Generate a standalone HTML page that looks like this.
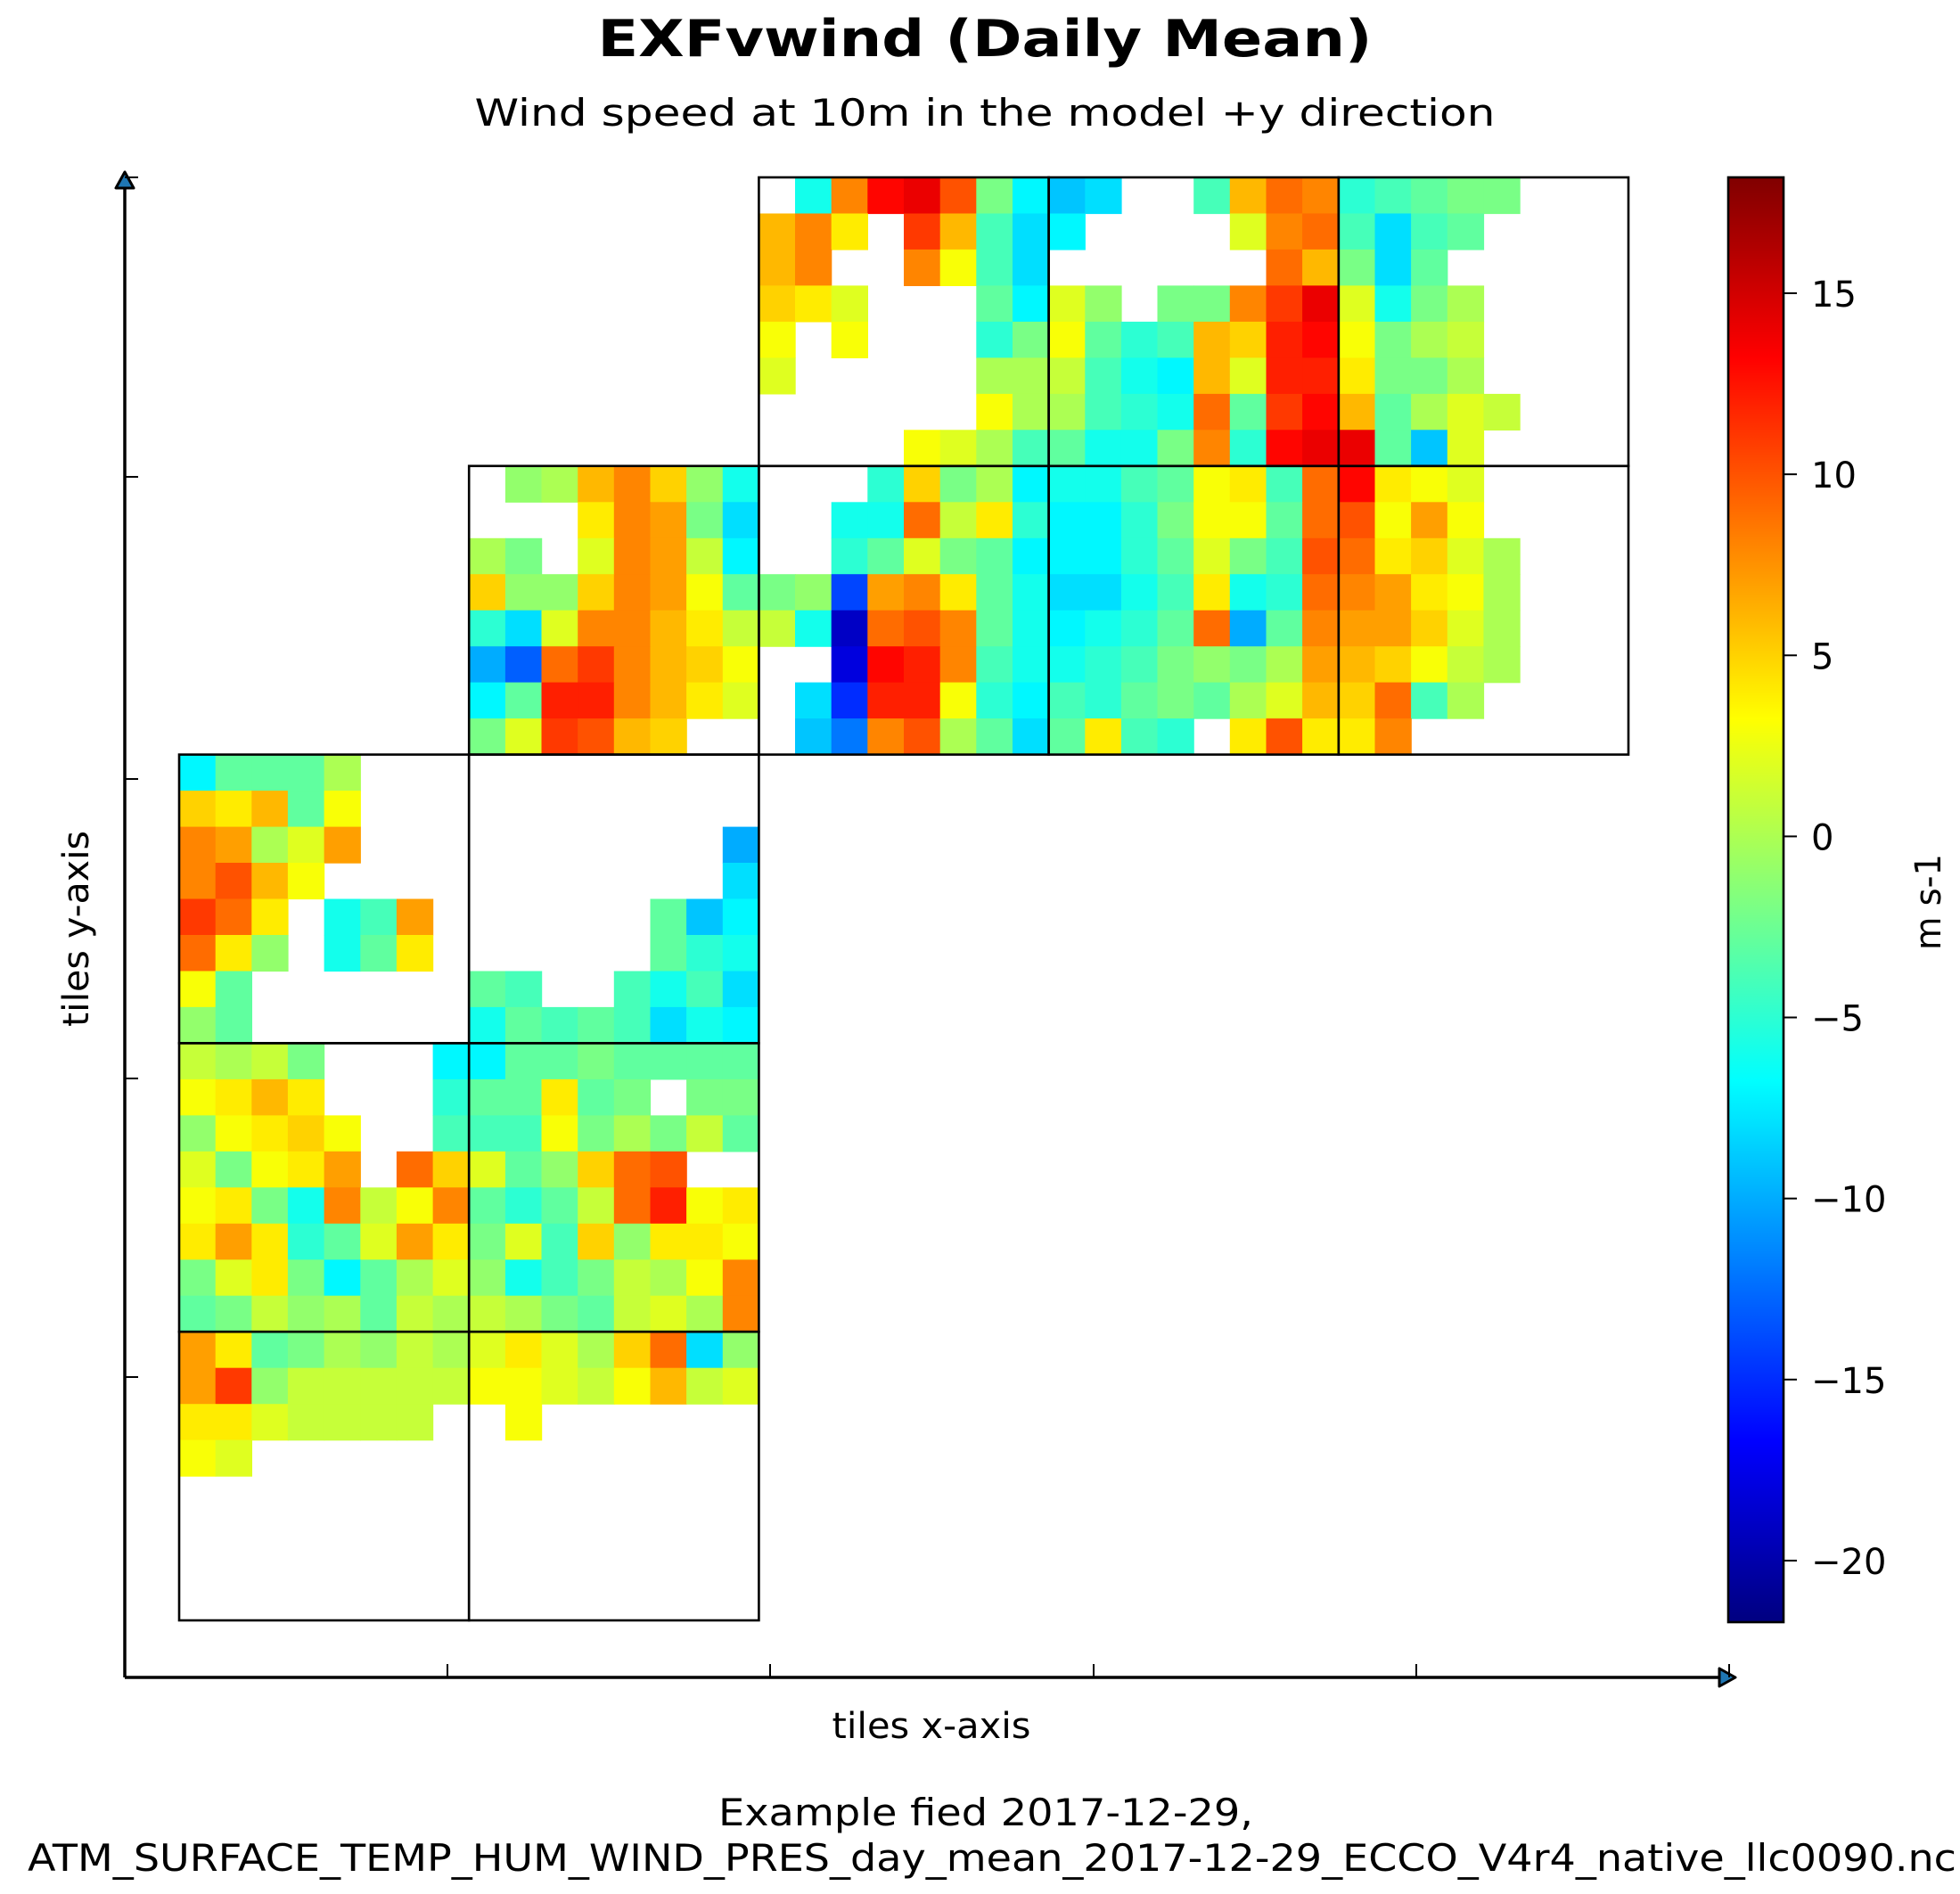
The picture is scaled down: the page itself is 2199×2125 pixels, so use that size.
<!DOCTYPE html>
<html><head><meta charset="utf-8"><title>EXFvwind (Daily Mean)</title>
<style>html,body{margin:0;padding:0;background:#fff}svg{display:block}text{font-family:"DejaVu Sans","Liberation Sans",sans-serif;fill:#000}</style>
</head><body>
<svg id="fig" xmlns="http://www.w3.org/2000/svg" width="2199" height="2125" viewBox="0 0 2199 2125">
<defs><linearGradient id="jetgrad" x1="0" y1="1" x2="0" y2="0"></linearGradient></defs>
<text x="1105" y="63" text-anchor="middle" font-size="57" font-weight="bold" textLength="869" lengthAdjust="spacingAndGlyphs">EXFvwind (Daily Mean)</text>
<text x="1105" y="141" text-anchor="middle" font-size="42" textLength="1145" lengthAdjust="spacingAndGlyphs">Wind speed at 10m in the model +y direction</text>
<g id="cells"></g>
<g id="frames"></g>
<g id="axes"></g>
<g id="cbar"></g>
<text x="1045" y="1950" text-anchor="middle" font-size="40" textLength="223" lengthAdjust="spacingAndGlyphs">tiles x-axis</text>
<text transform="translate(99,1042) rotate(-90)" text-anchor="middle" font-size="40" textLength="220" lengthAdjust="spacingAndGlyphs">tiles y-axis</text>
<text transform="translate(2177,1012) rotate(-90)" text-anchor="middle" font-size="40" textLength="108" lengthAdjust="spacingAndGlyphs">m s-1</text>
<text x="1106" y="2048" text-anchor="middle" font-size="42" textLength="600" lengthAdjust="spacingAndGlyphs">Example fied 2017-12-29,</text>
<text x="1113" y="2099" text-anchor="middle" font-size="42" textLength="2164" lengthAdjust="spacingAndGlyphs">ATM_SURFACE_TEMP_HUM_WIND_PRES_day_mean_2017-12-29_ECCO_V4r4_native_llc0090.nc</text>
</svg>
<script>
var _ = null;
// colour range (m s-1)
var vMin = -21.7;
var vMax = 18.2;
var cbarTicks = [15, 10, 5, 0, -5, -10, -15, -20];
var cbarTickLabels = ["15", "10", "5", "0", "\u221210", "\u221210", "\u221215", "\u221220"];
cbarTickLabels[4] = "\u22125";
// tile layout: [tileRow, tileCol]
var framedTiles = [[0,2],[0,3],[0,4],[1,1],[1,2],[1,3],[1,4],[2,0],[2,1],[3,0],[3,1],[4,0],[4,1]];
framedTiles.splice(framedTiles.length,0);
// tile field values (8x8 coarse samples each, null = land)
var tile02 = [
[_,-6,8,13,14,10,-2,-7],
[6,8,4,_,11,6,-4,-8],
[6,8,_,_,8,3,-4,-8],
[5,4,2,_,_,_,-3,-7],
[3,_,3,_,_,_,-5,-2],
[2,_,_,_,_,_,0,0],
[_,_,_,_,_,_,3,0],
[_,_,_,_,3,2,0,-4]];
var tile03 = [
[-9,-8,_,_,-4,6,9,8],
[-7,_,_,_,_,2,8,9],
[_,_,_,_,_,_,9,6],
[2,-1,_,-2,-2,8,11,14],
[3,-3,-5,-4,6,5,12,13],
[1,-4,-6,-7,6,2,12,12],
[0,-4,-5,-6,9,-3,11,13],
[-3,-6,-6,-2,8,-5,13,14]];
var tile04 = [
[-5,-4,-3,-2,-2,_,_,_],
[-4,-8,-4,-3,_,_,_,_],
[-2,-8,-3,_,_,_,_,_],
[2,-6,-2,0,_,_,_,_],
[3,-2,0,1,_,_,_,_],
[4,-2,-2,0,_,_,_,_],
[6,-3,0,2,1,_,_,_],
[14,-3,-9,2,_,_,_,_]];
var tile11 = [
[_,-1,0,6,8,5,-1,-6],
[_,_,_,4,8,7,-2,-8],
[0,-2,_,2,8,7,1,-7],
[5,-1,-1,5,8,7,3,-3],
[-5,-8,2,8,8,6,4,1],
[-10,-13,9,11,8,6,5,3],
[-7,-3,12,12,8,6,4,2],
[-2,2,11,10,6,5,_,_]];
var tile12 = [
[_,_,_,-5,5,-2,0,-7],
[_,_,-6,-6,9,1,4,-5],
[_,_,-5,-3,2,-2,-3,-7],
[-2,-1,-14,7,8,4,-3,-6],
[1,-6,-19,9,10,8,-3,-6],
[_,_,-18,13,12,8,-4,-6],
[_,-8,-15,12,12,3,-5,-7],
[_,-9,-12,8,10,0,-3,-8]];
var tile13 = [
[-6,-6,-4,-3,3,4,-4,9],
[-7,-7,-5,-2,3,3,-3,9],
[-7,-7,-5,-3,2,-2,-4,10],
[-8,-8,-6,-4,4,-6,-5,9],
[-7,-6,-5,-3,9,-10,-3,8],
[-6,-5,-4,-2,-1,-2,0,7],
[-4,-5,-3,-2,-3,0,2,6],
[-3,4,-4,-5,_,4,10,4]];
var tile14 = [
[13,4,3,2,_,_,_,_],
[10,3,7,3,_,_,_,_],
[9,4,5,2,0,_,_,_],
[8,7,4,3,0,_,_,_],
[7,7,5,2,0,_,_,_],
[6,5,3,1,0,_,_,_],
[5,9,-4,0,_,_,_,_],
[4,8,_,_,_,_,_,_]];
var tile20 = [
[-7,-3,-3,-3,0,_,_,_],
[5,4,6,-3,3,_,_,_],
[8,7,0,2,7,_,_,_],
[8,10,6,3,_,_,_,_],
[11,9,4,_,-6,-4,7,_],
[9,4,-1,_,-6,-3,4,_],
[3,-3,_,_,_,_,_,_],
[-1,-3,_,_,_,_,_,_]];
var tile21 = [
[_,_,_,_,_,_,_,_],
[_,_,_,_,_,_,_,_],
[_,_,_,_,_,_,_,-10],
[_,_,_,_,_,_,_,-8],
[_,_,_,_,_,-3,-9,-7],
[_,_,_,_,_,-3,-5,-6],
[-3,-4,_,_,-4,-6,-4,-8],
[-6,-3,-4,-3,-4,-8,-6,-7]];
var tile30 = [
[1,0,1,-2,_,_,_,-7],
[3,4,6,4,_,_,_,-5],
[-1,3,4,5,3,_,_,-4],
[2,-2,3,4,7,_,9,5],
[3,4,-2,-6,8,1,3,8],
[4,7,4,-5,-3,2,7,4],
[-2,2,4,-2,-7,-3,0,2],
[-3,-2,1,-1,0,-3,1,0]];
var tile31 = [
[-7,-3,-3,-2,-3,-3,-3,-3],
[-3,-3,4,-3,-2,_,-2,-2],
[-4,-4,3,-2,0,-2,1,-3],
[2,-3,-1,5,9,10,_,_],
[-3,-5,-3,1,9,12,3,4],
[-2,2,-4,5,-1,4,4,3],
[-1,-6,-4,-2,1,0,3,8],
[1,0,-2,-3,1,2,0,8]];
var tile40 = [
[7,4,-3,-2,0,-1,1,0],
[7,11,-1,1,1,1,1,1],
[4,4,2,1,1,1,1,_],
[3,2,_,_,_,_,_,_],
[_,_,_,_,_,_,_,_],
[_,_,_,_,_,_,_,_],
[_,_,_,_,_,_,_,_],
[_,_,_,_,_,_,_,_]];
var tile41 = [
[2,4,2,0,5,9,-8,-1],
[3,3,2,1,3,6,1,2],
[_,3,_,_,_,_,_,_],
[_,_,_,_,_,_,_,_],
[_,_,_,_,_,_,_,_],
[_,_,_,_,_,_,_,_],
[_,_,_,_,_,_,_,_],
[_,_,_,_,_,_,_,_]];
var tileFields = [[0,2,tile02],[0,3,tile03],[0,4,tile04],[1,1,tile11],[1,2,tile12],[1,3,tile13],[1,4,tile14],[2,0,tile20],[2,1,tile21],[3,0,tile30],[3,1,tile31],[4,0,tile40],[4,1,tile41]];

var NS = "http://www.w3.org/2000/svg";
var X0 = 201, Y0 = 199, TW = 325.2, TH = 323.8, N = 8;
var AX = 140, AY = 1882;
var CBX = 1939, CBW = 62, CBT = 199, CBB = 1820;
function tx(col, c) { return X0 + col * TW + c * TW / N; }
function ty(row, r) { return Y0 + row * TH + r * TH / N; }
function cbY(v) { return CBT + (vMax - v) / (vMax - vMin) * (CBB - CBT); }
function jet(v) {
  var t = (v - vMin) / (vMax - vMin);
  t = Math.max(0, Math.min(1, t));
  function cl(x) { return Math.round(255 * Math.max(0, Math.min(1, x))); }
  return "rgb(" + cl(1.5 - Math.abs(4 * t - 3)) + "," + cl(1.5 - Math.abs(4 * t - 2)) + "," + cl(1.5 - Math.abs(4 * t - 1)) + ")";
}
function mk(tag, attrs, parent) {
  var e = document.createElementNS(NS, tag);
  for (var k in attrs) e.setAttribute(k, attrs[k]);
  parent.appendChild(e);
  return e;
}
var cells = document.getElementById("cells");
tileFields.forEach(function (tf) {
  var row = tf[0], col = tf[1], data = tf[2];
  for (var r = 0; r < N; r++) for (var c = 0; c < N; c++) {
    var v = data[r][c];
    if (v === null) continue;
    var x = tx(col, c), y = ty(row, r);
    var el = mk("rect", { x: x.toFixed(1), y: y.toFixed(1), width: (TW / N + 0.6).toFixed(1), height: (TH / N + 0.6).toFixed(1), fill: jet(v) }, cells);
    
    
  }
});
var frames = document.getElementById("frames");
framedTiles.forEach(function (t) {
  var el = mk("rect", { x: tx(t[1], 0), y: ty(t[0], 0), width: TW, height: TH, fill: "none", stroke: "#000", "stroke-width": 2.6 }, frames);
  
  
});
var axes = document.getElementById("axes");
var yl = mk("line", { x1: AX, y1: AY, x2: AX, y2: 205, stroke: "#000", "stroke-width": 3.5 }, axes);


var xl = mk("line", { x1: AX, y1: AY, x2: 1935, y2: AY, stroke: "#000", "stroke-width": 3.5 }, axes);


var ya = mk("polygon", { points: "140,193 130,211 150,211", fill: "#1f77b4", stroke: "#000", "stroke-width": 3, "stroke-linejoin": "round" }, axes);


var xa = mk("polygon", { points: "1947,1882 1929,1872 1929,1892", fill: "#1f77b4", stroke: "#000", "stroke-width": 3, "stroke-linejoin": "round" }, axes);


var yTickPos = [199, 535, 874, 1210, 1545];
var xTickPos = [502, 864, 1227, 1589, 1940];
yTickPos.forEach(function (y) {
  var t = mk("line", { x1: AX, y1: y, x2: AX + 15, y2: y, stroke: "#000", "stroke-width": 2 }, axes);
  
  
});
xTickPos.forEach(function (x) {
  var t = mk("line", { x1: x, y1: AY, x2: x, y2: AY - 15, stroke: "#000", "stroke-width": 2 }, axes);
  
  
});
// colorbar
var grad = document.getElementById("jetgrad");
for (var i = 0; i <= 40; i++) {
  var v = vMin + (vMax - vMin) * i / 40;
  mk("stop", { offset: (i / 40).toFixed(3), "stop-color": jet(v) }, grad);
}
var cbar = document.getElementById("cbar");
var cb = mk("rect", { x: CBX, y: CBT, width: CBW, height: CBB - CBT, fill: "url(#jetgrad)", stroke: "#000", "stroke-width": 2.6 }, cbar);


cbarTicks.forEach(function (v, i) {
  var y = cbY(v);
  var t = mk("line", { x1: CBX + CBW, y1: y, x2: CBX + CBW + 15, y2: y, stroke: "#000", "stroke-width": 2 }, cbar);
  
  
  var lb = mk("text", { x: 2032, y: (y + 15).toFixed(1), "font-size": 40 }, cbar);
  lb.textContent = cbarTickLabels[i];
  
  
});
</script>
</body></html>
